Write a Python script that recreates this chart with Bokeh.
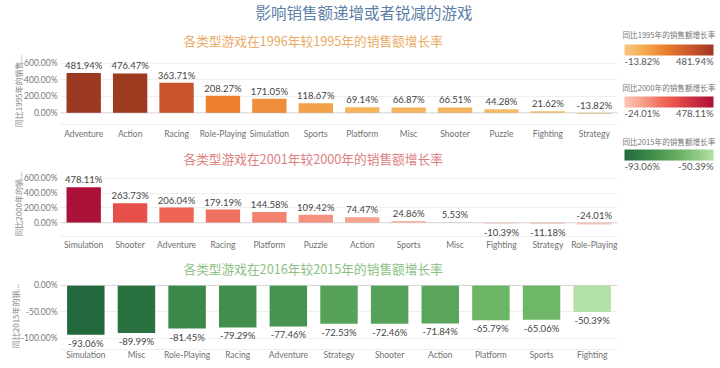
from bokeh.plotting import figure
from bokeh.models import (ColumnDataSource, FixedTicker, PrintfTickFormatter, Title, Span,
                          LinearColorMapper, ColorBar, Label, Range1d, FactorRange)
from bokeh.layouts import row, column
from bokeh.embed import file_html
from bokeh.resources import INLINE
from bokeh.core.properties import value

# ---------------- data ----------------
cats_1996 = ["Adventure", "Action", "Racing", "Role-Playing", "Simulation", "Sports",
             "Platform", "Misc", "Shooter", "Puzzle", "Fighting", "Strategy"]
growth_1996 = [481.94, 476.47, 363.71, 208.27, 171.05, 118.67, 69.14, 66.87, 66.51, 44.28, 21.62, -13.82]

cats_2001 = ["Simulation", "Shooter", "Adventure", "Racing", "Platform", "Puzzle",
             "Action", "Sports", "Misc", "Fighting", "Strategy", "Role-Playing"]
growth_2001 = [478.11, 263.73, 206.04, 179.19, 144.58, 109.42, 74.47, 24.86, 5.53, -10.39, -11.18, -24.01]

cats_2016 = ["Simulation", "Misc", "Role-Playing", "Racing", "Adventure", "Strategy",
             "Shooter", "Action", "Platform", "Sports", "Fighting"]
growth_2016 = [-93.06, -89.99, -81.45, -79.29, -77.46, -72.53, -72.46, -71.84, -65.79, -65.06, -50.39]

ticks_pos = [0, 200, 400, 600]
ticks_neg = [0, -50, -100]

main_title = "影响销售额递增或者锐减的游戏"
sub_1996 = "各类型游戏在1996年较1995年的销售额增长率"
sub_2001 = "各类型游戏在2001年较2000年的销售额增长率"
sub_2016 = "各类型游戏在2016年较2015年的销售额增长率"
ytitle_1996 = "同比1995年的销售..."
ytitle_2001 = "同比2000年的销..."
ytitle_2016 = "同比2015年的销..."
legend_1996 = "同比1995年的销售额增长率"
legend_2001 = "同比2000年的销售额增长率"
legend_2016 = "同比2015年的销售额增长率"

CJK = "Noto Sans CJK SC"
LAT = "Lato"


def ramp(stops, n=256):
    def h2r(h):
        h = h.lstrip("#")
        return [int(h[i:i + 2], 16) for i in (0, 2, 4)]
    pts = [(t, h2r(c)) for t, c in stops]
    out = []
    for i in range(n):
        t = i / (n - 1)
        for j in range(len(pts) - 1):
            t0, c0 = pts[j]
            t1, c1 = pts[j + 1]
            if t0 <= t <= t1:
                f = 0 if t1 == t0 else (t - t0) / (t1 - t0)
                c = [round(c0[k] + (c1[k] - c0[k]) * f) for k in range(3)]
                out.append("#%02x%02x%02x" % tuple(c))
                break
    return out


pal_orange = ramp([(0, "#f9c67e"), (0.17, "#f5b35c"), (0.27, "#f2a149"), (0.45, "#ec7f2f"),
                   (0.76, "#c9542a"), (1, "#9c3a21")])
pal_red = ramp([(0, "#fec4b7"), (0.2, "#f8a08c"), (0.45, "#ee6656"), (0.6, "#e54b47"),
                (0.8, "#c82a3f"), (1, "#ac1239")])
pal_green = ramp([(0, "#24693d"), (0.3, "#3d8c4b"), (0.5, "#5aa45b"), (0.65, "#6db666"),
                  (1, "#b3e0a6")])

FRAME_LEFT = 60
FIG_W = 620


def make_chart(cats, vals, palette, sub_text, sub_color, ytitle, ticks, yr, height,
               top_border, bottom_border, x_standoff, sub_standoff, above_zero=()):
    p = figure(x_range=FactorRange(*cats), y_range=Range1d(*yr), width=FIG_W, height=height,
               output_backend="svg", toolbar_location=None, title=None,
               min_border_left=FRAME_LEFT, min_border_right=3, min_border_top=top_border,
               min_border_bottom=bottom_border, outline_line_color=None)
    mapper = LinearColorMapper(palette=palette, low=min(vals), high=max(vals))
    src = ColumnDataSource(dict(cat=cats, val=vals))
    p.vbar(x="cat", top="val", bottom=0, width=0.74, source=src,
           fill_color={"field": "val", "transform": mapper}, line_color=None)

    up_c, up_y, up_t, dn_c, dn_y, dn_t = [], [], [], [], [], []
    for c, v in zip(cats, vals):
        txt = f"{v:.2f}%"
        if v >= 0 or c in above_zero:
            up_c.append(c); up_y.append(max(v, 0)); up_t.append(txt)
        else:
            dn_c.append(c); dn_y.append(v); dn_t.append(txt)
    common = dict(text_font=value(LAT), text_font_size="9.5px", text_color="#444444",
                  text_align="center")
    p.text(x=up_c, y=up_y, text=up_t, text_baseline="bottom", y_offset=-2, **common)
    p.text(x=dn_c, y=dn_y, text=dn_t, text_baseline="top", y_offset=3, **common)

    p.add_layout(Span(location=0, dimension="width", line_color="#bdbdbd",
                      line_dash="1 1", line_width=1))

    p.yaxis.ticker = FixedTicker(ticks=ticks)
    p.yaxis.formatter = PrintfTickFormatter(format="%.2f%%")
    p.yaxis.axis_line_color = None
    p.yaxis.major_tick_line_color = None
    p.yaxis.minor_tick_line_color = None
    p.yaxis.major_tick_out = 0
    p.yaxis.major_tick_in = 0
    p.yaxis.minor_tick_out = 0
    p.yaxis.major_label_text_font = LAT
    p.yaxis.major_label_text_font_size = "8.5px"
    p.yaxis.major_label_text_color = "#777777"
    p.yaxis.major_label_standoff = 3
    p.yaxis.axis_label = ytitle
    p.yaxis.axis_label_text_font = CJK
    p.yaxis.axis_label_text_font_size = "8px"
    p.yaxis.axis_label_text_font_style = "normal"
    p.yaxis.axis_label_text_color = "#888888"
    p.yaxis.axis_label_standoff = -3

    p.xaxis.axis_line_color = "#eeeeee"
    p.xaxis.major_tick_line_color = None
    p.xaxis.minor_tick_line_color = None
    p.xaxis.major_tick_out = 0
    p.xaxis.major_tick_in = 0
    p.xaxis.minor_tick_out = 0
    p.xaxis.axis_label_standoff = 0
    p.xaxis.major_label_text_font = LAT
    p.xaxis.major_label_text_font_size = "8.5px"
    p.xaxis.major_label_text_color = "#707070"
    p.xaxis.major_label_standoff = x_standoff

    p.xgrid.grid_line_color = None
    p.ygrid.grid_line_color = "#efefef"

    p.add_layout(Title(text=sub_text, text_font=CJK, text_font_size="12.7px",
                       text_font_style="normal", text_color=sub_color, align="left",
                       offset=183 - FRAME_LEFT, standoff=sub_standoff), "above")
    return p


f1 = make_chart(cats_1996, growth_1996, pal_orange, sub_1996, "#e9a964", ytitle_1996,
                ticks_pos, (-139, 669), 142, 57, 18, 4, 16, above_zero=("Strategy",))
f1.add_layout(Title(text=main_title, text_font=CJK, text_font_size="15.5px",
                    text_font_style="normal", text_color="#5a7ea6", align="left",
                    offset=255 - FRAME_LEFT, standoff=-4), "above")
f2 = make_chart(cats_2001, growth_2001, pal_red, sub_2001, "#dc7e80", ytitle_2001,
                ticks_pos, (-184, 677), 110, 28, 14, 3, 9, above_zero=("Role-Playing",))
f3 = make_chart(cats_2016, growth_2016, pal_green, sub_2016, "#8cc083", ytitle_2016,
                ticks_neg, (-121, 5.5), 114, 28, 17, 0, 9)

# ---------------- legends ----------------
LH = 366
lg = figure(width=96, height=LH, x_range=Range1d(0, 96), y_range=Range1d(LH, 0),
            output_backend="svg", toolbar_location=None, min_border=0,
            x_axis_type=None, y_axis_type=None, outline_line_color=None)
lg.grid.visible = False

legend_specs = [
    (legend_1996, growth_1996, pal_orange, 34, 44),
    (legend_2001, growth_2001, pal_red, 87, 96),
    (legend_2016, growth_2016, pal_green, 141, 149),
]
for ttl, vals, pal, ty, by in legend_specs:
    lg.add_layout(Label(x=2, y=ty, text=ttl, text_font=CJK, text_font_size="7.6px",
                        text_color="#777777", text_baseline="middle"))
    cb = ColorBar(color_mapper=LinearColorMapper(palette=pal, low=min(vals), high=max(vals)),
                  orientation="horizontal", location=(4, LH - by - 11), width=89, height=11,
                  padding=0, margin=0, ticker=FixedTicker(ticks=[]),
                  major_label_text_font_size="0px", major_tick_line_color=None,
                  minor_tick_line_color=None, bar_line_color=None, border_line_color=None,
                  background_fill_alpha=0)
    lg.add_layout(cb)
    lg.add_layout(Label(x=4, y=by + 17, text=f"{min(vals):.2f}%", text_font=LAT,
                        text_font_size="9.5px", text_color="#555555", text_baseline="middle",
                        text_align="left"))
    lg.add_layout(Label(x=93, y=by + 17, text=f"{max(vals):.2f}%", text_font=LAT,
                        text_font_size="9.5px", text_color="#555555", text_baseline="middle",
                        text_align="right"))

layout = row(column(f1, f2, f3), lg)
open("out.html", "w").write(file_html(layout, INLINE))
